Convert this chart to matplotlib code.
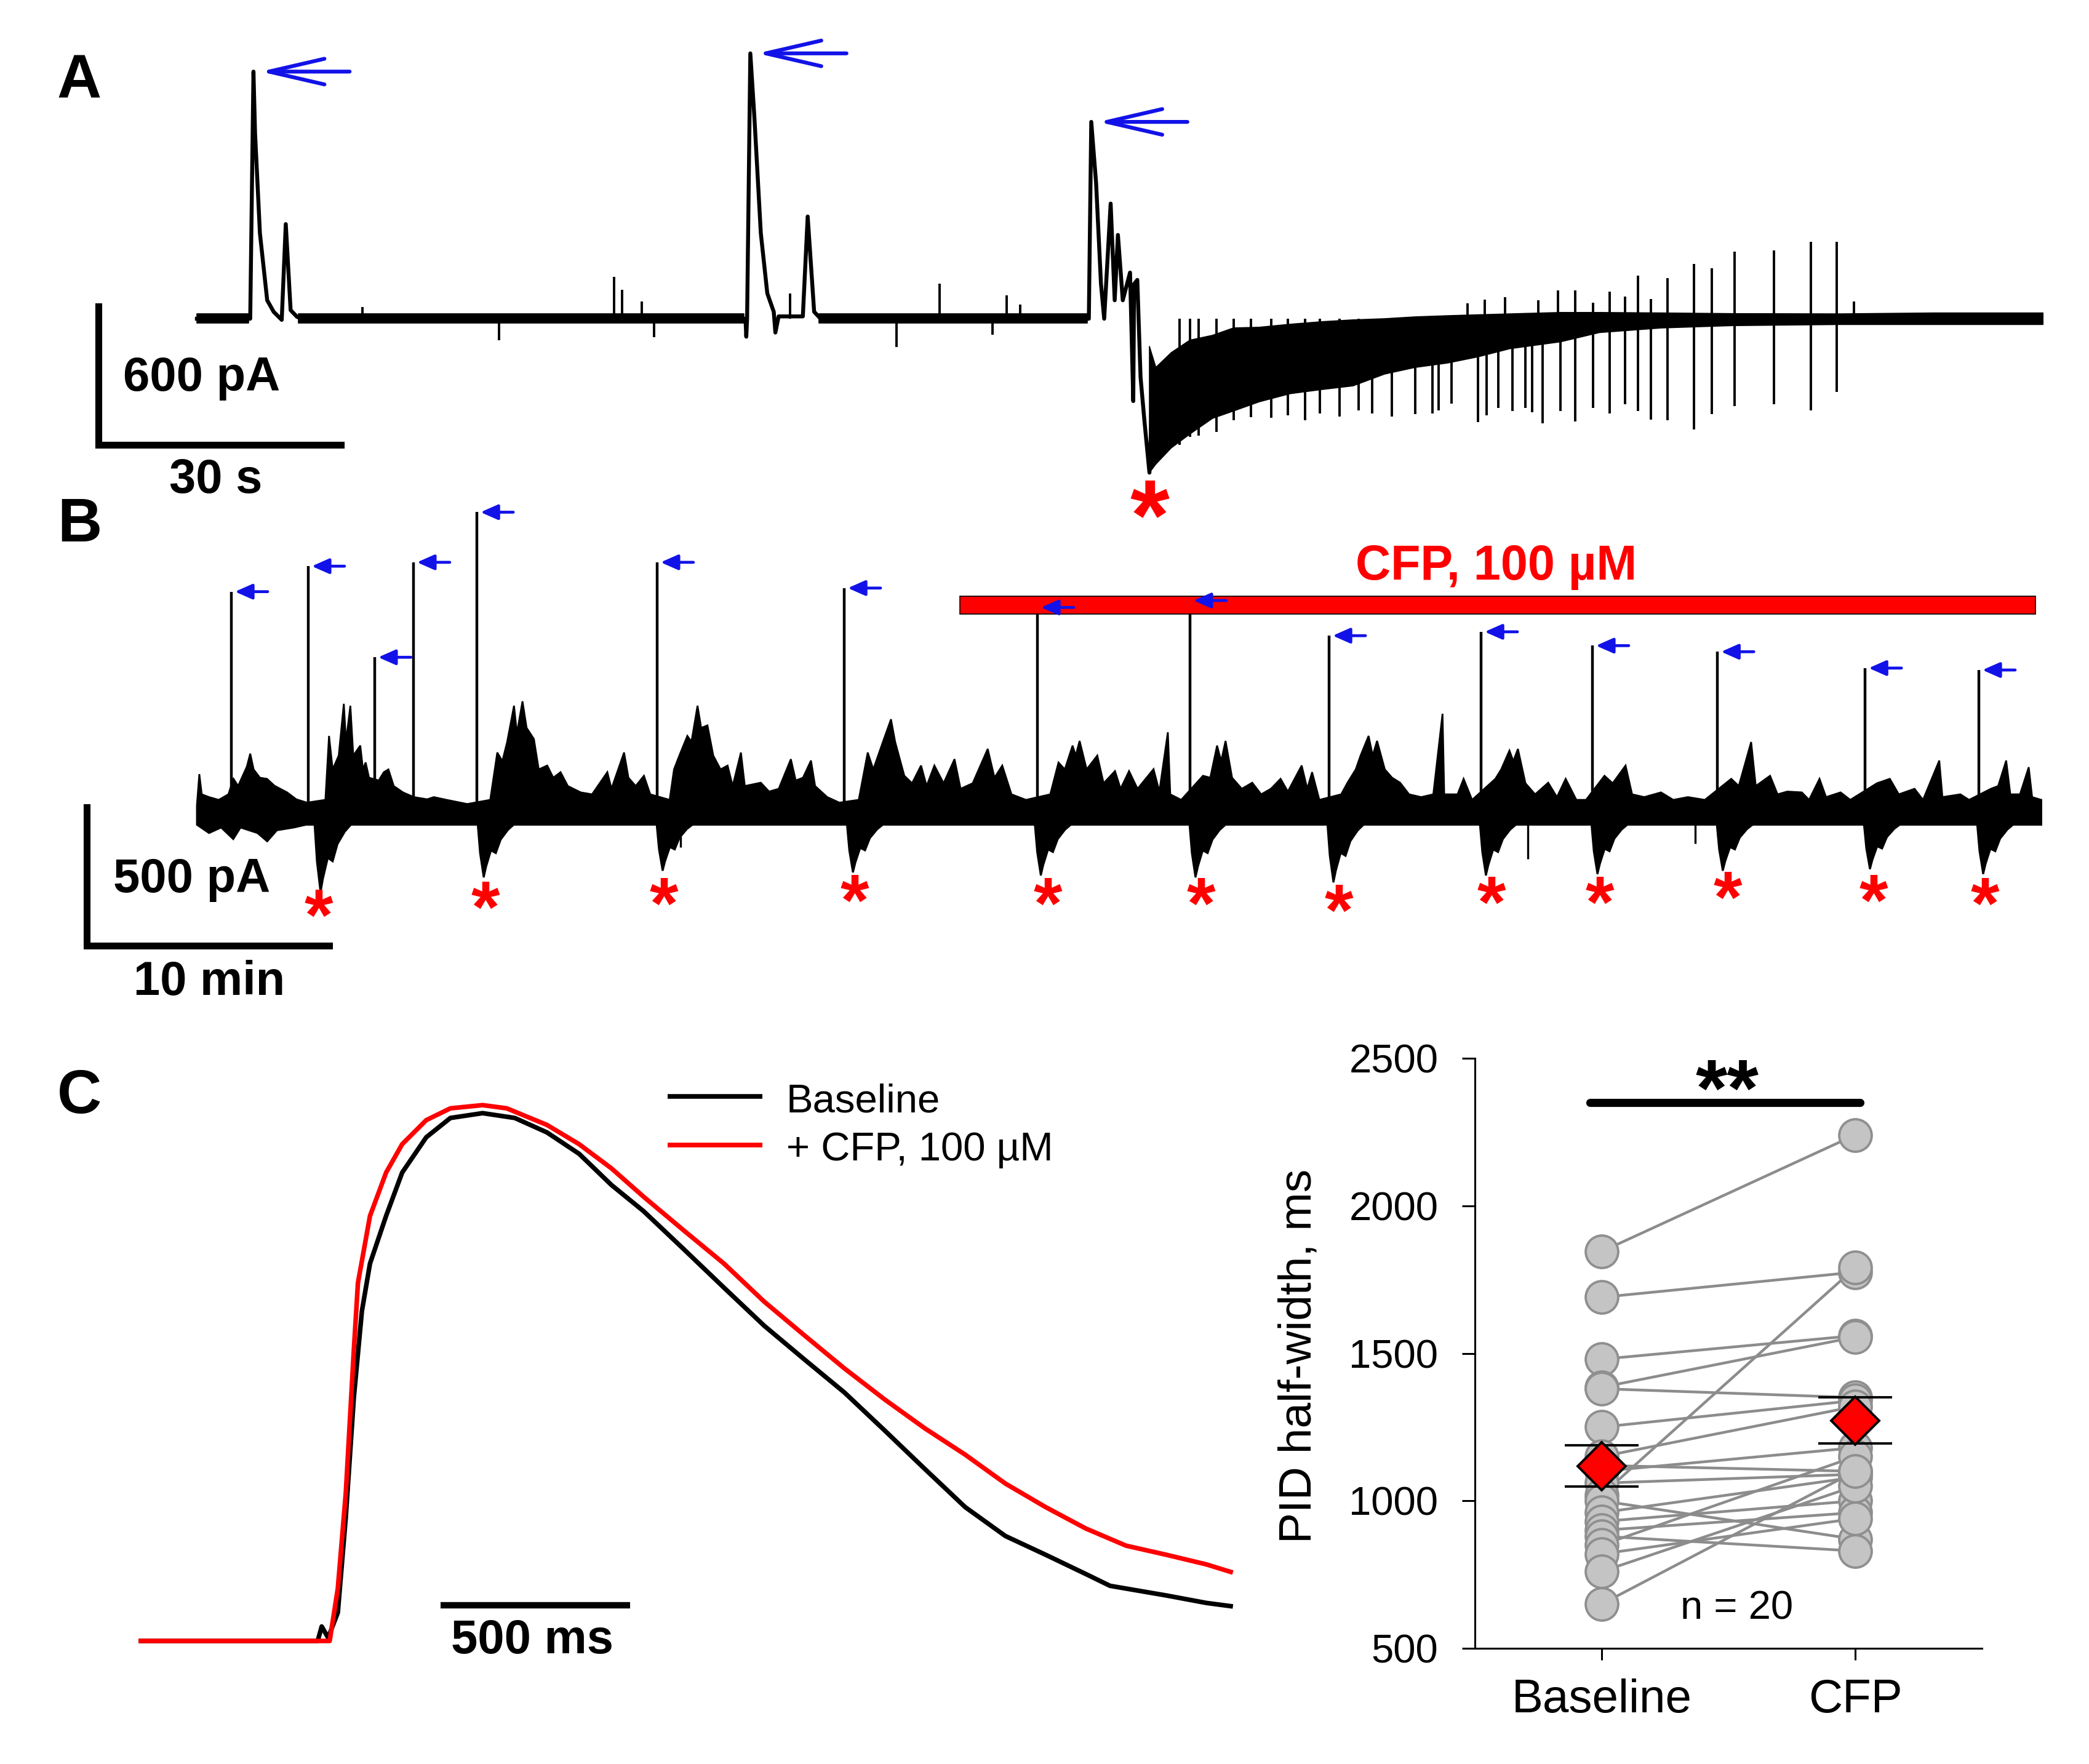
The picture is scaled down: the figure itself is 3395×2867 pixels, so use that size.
import numpy as np
import matplotlib
matplotlib.use("Agg")
import matplotlib.pyplot as plt

plt.rcParams["font.family"] = ["Liberation Sans", "DejaVu Sans"]

# ---------------- Panel A data (time in s, current in pA) ----------------
a_trace_t = [0, 6.6, 7.0, 7.2, 7.8, 8.7, 9.5, 10.5, 11.0, 11.6, 12.4, 13.0,
             67.9, 68.0, 68.1, 68.5, 69.0, 69.8, 70.6, 71.4, 71.6, 72.0, 75.0, 75.6, 76.4, 77.2,
             110.4, 110.7, 111.3, 111.9, 112.3, 113.1, 113.6, 114.0, 114.6, 115.5, 115.9, 116.0,
             116.4, 116.8, 117.3, 117.9, 118.3]
a_trace_v = [0, 0, 1071, 803, 370, 80, 30, -5, 410, 37, 8, 0,
             0, -78, 0, 1150, 875, 370, 110, 30, -60, 10, 10, 443, 30, 0,
             0, 853, 587, 152, 0, 499, 80, 363, 80, 200, -357, 150,
             168, -253, -450, -667, -300]
a_band_t = [0, 6.4, 6.45, 12.6, 67.7, 67.75, 77.0, 110.2, 110.25,
            117.9, 118.7, 120.6, 122.9, 125.7, 128.3, 131.5, 135.3, 139.2, 143.1,
            147.0, 150.8, 154.8, 158.6, 162.5, 168.8, 173.6, 181.3, 190.0, 203.4, 215.0, 228.5]
a_band_hi = [20, 20, np.nan, 20, 20, np.nan, 20, 20, np.nan,
             -120, -211, -147, -93, -72, -40, -37, -24, -13, -5,
             0, 8, 13, 17, 21, 27, 27, 25, 22, 21, 25, 25]
a_band_lo = [-20, -20, np.nan, -20, -20, np.nan, -20, -20, np.nan,
             -667, -630, -560, -500, -432, -400, -360, -325, -307, -291,
             -240, -211, -192, -165, -130, -100, -60, -40, -30, -25, -25, -25]
a_up_t = [20.5, 51.6, 52.6, 55.1, 73.4, 91.9, 100.2, 101.9, 157.3, 159.4, 161.9, 166.0,
          168.5, 170.6, 172.8, 174.9, 176.8, 178.4, 180.0, 182.0, 185.3, 187.5, 190.3,
          195.2, 199.8, 203.0, 205.1]
a_up_v = [50, 181, 125, 75, 110, 152, 101, 60, 67, 83, 93, 80,
          123, 123, 69, 117, 96, 187, 85, 176, 237, 219, 291,
          296, 333, 333, 75]
a_dn_t = [37.4, 56.6, 86.6, 98.5, 121.6, 122.9, 124.0, 126.2, 128.3, 130.5, 133.0, 135.0,
          137.2, 139.0, 141.4,
          143.8, 145.5, 147.9, 150.8, 152.9, 153.7, 155.3, 158.6, 159.6, 161.1, 162.8, 164.4,
          165.3, 166.6, 168.8, 170.6, 172.8, 174.9, 176.8, 178.4, 180.0, 182.0, 185.3, 187.5,
          190.3, 195.2, 199.8, 203.0]
a_dn_v = [-93, -80, -122, -70, -547, -512, -507, -491, -440, -427, -430, -420,
          -440, -410, -424,
          -397, -410, -424, -413, -410, -397, -368, -448, -419, -387, -400, -387,
          -405, -453, -400, -445, -387, -411, -371, -400, -437, -440, -480, -413,
          -379, -371, -397, -317]
a_peak_t = [7.0, 68.5, 110.7]
a_peak_v = [1071, 1150, 853]
a_star_t, a_star_v = [117.9], [-795]

# ---------------- Panel B data (time in min, current in pA) ----------------
b_spk_t = [1.42, 4.59, 7.33, 8.93, 11.55, 18.98, 26.70, 34.67, 40.96, 46.70, 52.97,
           57.56, 62.72, 68.81, 73.50]
b_spk_v = [792, 884, 555, 898, 1079, 898, 805, 735, 760, 633, 647, 597, 575, 516, 509]
b_tr_t = [5.10, 11.83, 19.21, 27.06, 34.81, 41.19, 46.88, 53.17, 57.77, 62.94, 69.01, 73.68]
b_tr_v = [-294, -240, -216, -222, -233, -240, -258, -233, -228, -216, -210, -228]
b_tr_dt = [-0.25, -0.15, 0.0, 0.1, 0.3, 0.5, 0.7, 1.0, 1.3]     # typical trough profile
b_tr_fr = [0.0, 0.55, 1.0, 0.8, 0.5, 0.55, 0.3, 0.12, 0.0]
b_star_t = [5.01, 11.9, 19.27, 27.12, 35.1, 41.41, 47.1, 53.41, 57.86, 63.15, 69.16, 73.75]
b_star_v = [-342, -312, -300, -288, -300, -300, -324, -294, -294, -276, -288, -300]
b_up_t = [0.0, 0.1, 0.2, 0.5, 0.9, 1.3, 1.51, 1.7, 2.06, 2.2, 2.34, 2.6, 2.89, 3.2, 3.72, 4.1, 4.54,
          5.3, 5.45, 5.6, 5.85, 6.06, 6.15, 6.33, 6.45, 6.74, 6.85, 6.96, 7.1, 7.5, 7.71, 7.9, 8.12,
          8.5, 8.95, 9.5, 9.77, 10.3, 11.15,
          12.1, 12.39, 12.6, 12.8, 13.08, 13.2, 13.43, 13.6, 13.9, 14.1, 14.45, 14.7, 15.0, 15.3,
          15.83, 16.3, 16.93, 17.1, 17.62, 17.8, 18.1, 18.44, 18.7,
          19.5, 19.68, 19.9, 20.23, 20.4, 20.65, 20.8, 21.06, 21.3, 21.6, 21.89, 22.1, 22.44, 22.6,
          23.26, 23.6, 24.0, 24.5, 24.7, 25.0, 25.33, 25.5, 26.0, 26.5,
          27.3, 27.67, 27.9, 28.3, 28.63, 28.8, 29.18, 29.5, 29.87, 30.1, 30.42, 30.8, 31.25, 31.5,
          32.0, 32.62, 32.9, 33.22, 33.6, 34.2,
          35.2, 35.54, 35.8, 36.12, 36.25, 36.41, 36.7, 37.14, 37.4, 37.87, 38.1, 38.45, 38.8,
          39.46, 39.7, 40.05, 40.15, 40.6,
          41.5, 41.8, 42.08, 42.25, 42.43, 42.7, 43.1, 43.53, 43.9, 44.3, 44.7, 45.0, 45.57, 45.8,
          46.0, 46.3,
          47.2, 47.46, 47.8, 48.0, 48.33, 48.5, 48.68, 49.0, 49.3, 49.63, 50.0, 50.5, 51.0, 51.38,
          51.45, 52.0, 52.25, 52.6,
          53.56, 53.8, 54.14, 54.3, 54.49, 54.8, 55.2, 55.74, 56.1, 56.46, 56.9, 57.3,
          58.06, 58.4, 58.93, 59.2, 59.7, 60.39, 60.9, 61.5, 62.2,
          63.29, 63.6, 64.11, 64.3, 64.89, 65.2, 65.6, 66.2, 66.5, 66.93, 67.2, 67.8, 68.2,
          69.3, 69.83, 70.2, 70.85, 71.2, 71.87, 72.0, 72.74, 73.1,
          74.0, 74.3, 74.63, 74.8, 75.2, 75.56, 75.7, 76.08]
b_up_v = [20, 133, 60, 50, 40, 60, 116, 90, 160, 207, 150, 120, 116, 91, 67, 42, 30,
          40, 271, 150, 200, 387, 250, 380, 200, 236, 150, 175, 120, 110, 140, 150, 90,
          67, 50, 42, 50, 40, 25,
          40, 211, 180, 250, 380, 280, 396, 300, 260, 150, 164, 120, 140, 90,
          67, 60, 140, 80, 211, 120, 90, 127, 60,
          40, 150, 200, 271, 250, 380, 300, 309, 200, 150, 164, 90, 211, 90,
          102, 70, 80, 187, 110, 120, 182, 90, 50, 30,
          40, 211, 150, 250, 331, 250, 127, 100, 164, 90, 164, 100, 187, 80,
          100, 224, 120, 164, 60, 40,
          60, 175, 150, 236, 200, 253, 150, 200, 100, 144, 80, 144, 80,
          151, 70, 284, 60, 40,
          127, 120, 236, 180, 253, 120, 80, 102, 60, 80, 116, 70, 164, 80,
          140, 40,
          60, 102, 150, 200, 271, 200, 253, 150, 120, 102, 60, 50, 60, 351,
          60, 60, 116, 40,
          116, 150, 218, 180, 224, 100, 60, 102, 50, 116, 40, 40,
          127, 100, 164, 60, 50, 67, 40, 50, 40,
          116, 90, 249, 90, 127, 60, 70, 67, 40, 116, 50, 67, 40,
          100, 116, 60, 80, 40, 182, 50, 60, 40,
          80, 90, 182, 60, 60, 158, 50, 40]
b_lo_t = [0.0, 0.5, 1.0, 1.5, 1.8, 2.5, 2.9, 3.3, 4.0, 4.5, 76.08]
b_lo_v = [-50, -80, -60, -102, -60, -80, -110, -70, -60, -50, -50]
b_dn_t = [19.96, 54.9, 61.8]
b_dn_v = [-130, -173, -118]
b_cfp_on, b_cfp_off = 31.47, 75.84
b_cfp_lo, b_cfp_hi = 711, 776

# ---------------- Panel C left data (time ms, normalized PID) ----------------
c_t_red = [0, 498, 519.5, 540.6, 561.8, 572.6, 604.4, 646.9, 689.3, 752.9, 816.6, 901.5, 965.1,
           1071.3, 1156.2, 1241.1, 1326, 1432, 1538.2, 1644.2, 1750.3, 1856.3, 1962.5, 2068.6,
           2174.7, 2280.8, 2386.9, 2493, 2599, 2705, 2811, 2875]
c_v_red = [0, 0, 0.098, 0.277, 0.544, 0.669, 0.794, 0.875, 0.928, 0.973, 0.995, 1.001, 0.995,
           0.964, 0.928, 0.883, 0.830, 0.767, 0.705, 0.634, 0.571, 0.509, 0.451, 0.397,
           0.348, 0.294, 0.250, 0.210, 0.178, 0.161, 0.143, 0.129]
c_t_blk = [0, 466.4, 477, 494, 519.5, 540.6, 561.8, 583, 604.4, 646.9, 689.3, 752.9, 816.6,
           901.5, 986.4, 1071.3, 1156.2, 1241.1, 1326, 1432, 1538.2, 1644.2, 1750.3, 1856.3,
           1962.5, 2068.6, 2174.7, 2280.8, 2386.9, 2493, 2556.7, 2705, 2811, 2875]
c_v_blk = [0, 0, 0.027, 0.006, 0.053, 0.232, 0.455, 0.616, 0.705, 0.794, 0.875, 0.941, 0.977,
           0.986, 0.977, 0.950, 0.910, 0.852, 0.803, 0.732, 0.660, 0.589, 0.526, 0.464,
           0.393, 0.321, 0.250, 0.196, 0.161, 0.125, 0.103, 0.085, 0.071, 0.065]

# ---------------- Panel C right data (PID half-width, ms) ----------------
pid_groups = ["Baseline", "CFP"]
pid_base = [1845, 1690, 1480, 1385, 1380, 1250, 1150, 1120, 1100, 1060,
            1020, 1000, 960, 930, 900, 880, 850, 820, 760, 650]
pid_cfp = [2240, 1775, 1560, 1555, 1350, 1340, 1320, 1100, 1180, 1090,
           1790, 870, 1080, 1000, 960, 830, 1150, 940, 1050, 1100]
pid_mean = [1118, 1272]
pid_sem = [70, 78]

# ---------------- figure ----------------
W, H = 3395, 2867
fig = plt.figure(figsize=(W / 100, H / 100), dpi=100)
BLUE = "#1212e8"
RED = "#ff0000"


def px_rect(x0, y0, x1, y1):
    return [x0 / W, 1 - y1 / H, (x1 - x0) / W, (y1 - y0) / H]


def star(ax, x, y, fs, color, text="*"):
    ax.annotate(text, xy=(x, y), xytext=(0, -0.47 * fs), textcoords="offset points",
                ha="center", va="baseline", fontsize=fs, fontweight="bold", color=color,
                annotation_clip=False)


BOLD = dict(fontweight="bold", fontsize=56, color="black", clip_on=False)

# ---- Panel A ----
axA = fig.add_axes(px_rect(0, 0, W, 860))
axA.set_xlim(-24.372, 234.196)
axA.set_ylim(-912, 1381.3)
axA.axis("off")
axA.fill_between(a_band_t, a_band_lo, a_band_hi, color="black", lw=1.2)
axA.plot(a_trace_t, a_trace_v, color="black", lw=4.6)
axA.vlines(a_up_t, 0, a_up_v, color="black", lw=2.8)
axA.vlines(a_dn_t, 0, a_dn_v, color="black", lw=2.8)
for t, v in zip(a_peak_t, a_peak_v):
    axA.annotate("", xy=(t + 0.85, v), xytext=(t + 11.9, v), annotation_clip=False,
                 arrowprops=dict(arrowstyle="->,head_length=6.5,head_width=1.5",
                                 color=BLUE, lw=4.5, mutation_scale=10,
                                 shrinkA=0, shrinkB=0))
for t, v in zip(a_star_t, a_star_v):
    star(axA, t, v, 118, RED)
axA.plot([-12.19, -12.19, 17.81], [53, -547, -547], color="black", lw=8,
         solid_capstyle="projecting", solid_joinstyle="miter")
axA.text(-9.14, -312, "600 pA", ha="left", va="baseline", **BOLD)
axA.text(2.3, -754, "30 s", ha="center", va="baseline", **BOLD)
axA.text(-17.36, 955, "A", ha="left", va="baseline", fontsize=72, fontweight="bold")

# ---- Panel B ----
axB = fig.add_axes(px_rect(0, 860, W, 1660))
axB.set_xlim(-8.1218, 78.046)
axB.set_ylim(-760, 1017.8)
axB.axis("off")
axB.fill(np.r_[b_up_t, b_lo_t[::-1]], np.r_[b_up_v, b_lo_v[::-1]],
         fc="black", ec="black", lw=2.0)
for t0, v0 in zip(b_tr_t, b_tr_v):
    ts = [t0 + d for d in b_tr_dt]
    vs = [-45 + f * (v0 + 45) for f in b_tr_fr]
    axB.fill(ts, vs, fc="black", ec="black", lw=2.2)
axB.vlines(b_spk_t, 0, b_spk_v, color="black", lw=3.2, clip_on=False)
axB.vlines(b_dn_t, -45, b_dn_v, color="black", lw=2.4)
axB.bar(b_cfp_on, b_cfp_hi - b_cfp_lo, width=b_cfp_off - b_cfp_on, bottom=b_cfp_lo,
        align="edge", color=RED, edgecolor="black", lw=1.2, zorder=3)
for t, v in zip(b_spk_t, b_spk_v):
    axB.annotate("", xy=(t + 0.15, v), xytext=(t + 1.5, v), annotation_clip=False,
                 arrowprops=dict(arrowstyle="-|>,head_length=1.7,head_width=0.75",
                                 color=BLUE, lw=3.4, mutation_scale=10,
                                 shrinkA=0, shrinkB=0), zorder=4)
for t, v in zip(b_star_t, b_star_v):
    star(axB, t, v, 86, RED)
axB.text(53.6, 835, "CFP, 100 µM", ha="center", va="baseline", fontsize=57,
         fontweight="bold", color=RED)
axB.plot([-4.543, -4.543, 5.457], [13.3, -486.7, -486.7], color="black", lw=8,
         solid_capstyle="projecting", solid_joinstyle="miter")
axB.text(-3.45, -293, "500 pA", ha="left", va="baseline", **BOLD)
axB.text(0.5, -665, "10 min", ha="center", va="baseline", **BOLD)
axB.text(-5.76, 973, "B", ha="left", va="baseline", fontsize=72, fontweight="bold")

# ---- Panel C left ----
axC = fig.add_axes(px_rect(0, 1660, 2050, H))
axC.set_xlim(-371.75, 2956.17)
axC.set_ylim(-0.22989, 1.15747)
axC.axis("off")
axC.plot(c_t_blk, c_v_blk, color="black", lw=5.4, label="Baseline")
axC.plot(c_t_red, c_v_red, color=RED, lw=5.4, label="+ CFP, 100 µM")
axC.plot([790.6, 1289.8], [0.0667, 0.0667], color="black", lw=7.5, solid_capstyle="butt")
axC.text(1032, -0.023, "500 ms", ha="center", va="baseline", **BOLD)
axC.text(-220.8, 0.986, "C", ha="left", va="baseline", fontsize=72, fontweight="bold")
for (y_line, y_txt, col, lab) in [(1.017, 0.9885, "black", "Baseline"),
                                  (0.926, 0.8975, RED, "+ CFP, 100 µM")]:
    axC.plot([1389.6, 1639.6], [y_line, y_line], color=col, lw=5.5, solid_capstyle="butt")
    axC.text(1702.9, y_txt, lab, ha="left", va="baseline", fontsize=47)

# ---- Panel C right ----
axR = fig.add_axes(px_rect(2397, 1720, 3221, 2679))
axR.set_xlim(-0.5, 1.5)
axR.set_ylim(500, 2500)
for b, c in zip(pid_base, pid_cfp):
    axR.plot([0, 1], [b, c], color="#8c8c8c", lw=3.2, zorder=2)
axR.plot(np.zeros(len(pid_base)), pid_base, "o", ms=38, mfc="#c4c4c4", mec="#8f8f8f",
         mew=2.8, ls="none", zorder=3, clip_on=False)
axR.plot(np.ones(len(pid_cfp)), pid_cfp, "o", ms=38, mfc="#c4c4c4", mec="#8f8f8f",
         mew=2.8, ls="none", zorder=3, clip_on=False)
axR.errorbar([0, 1], pid_mean, yerr=pid_sem, fmt="D", ms=40, mfc=RED, mec="black",
             mew=2.8, ecolor="black", elinewidth=5, capsize=43, capthick=5.5, zorder=6)
axR.plot([-0.046, 1.019], [2350, 2350], color="black", lw=9.5, solid_capstyle="round",
         clip_on=False)
star(axR, 0.495, 2433, 95, "black", text="**")
axR.text(0.534, 600, "n = 20", ha="center", va="baseline", fontsize=47)
for side in ["top", "right"]:
    axR.spines[side].set_visible(False)
for side in ["left", "bottom"]:
    axR.spines[side].set_linewidth(2.2)
axR.set_yticks([500, 1000, 1500, 2000, 2500])
axR.set_xticks([0, 1])
axR.set_xticklabels(pid_groups)
axR.tick_params(axis="y", labelsize=47, length=15, width=2.2, pad=28)
axR.tick_params(axis="x", labelsize=55, length=14, width=2.2, pad=21)
axR.set_ylabel("PID half-width, ms", fontsize=54)
axR.yaxis.set_label_coords(-0.305, 0.495)

fig.savefig("out.png", dpi=100, facecolor="white")
